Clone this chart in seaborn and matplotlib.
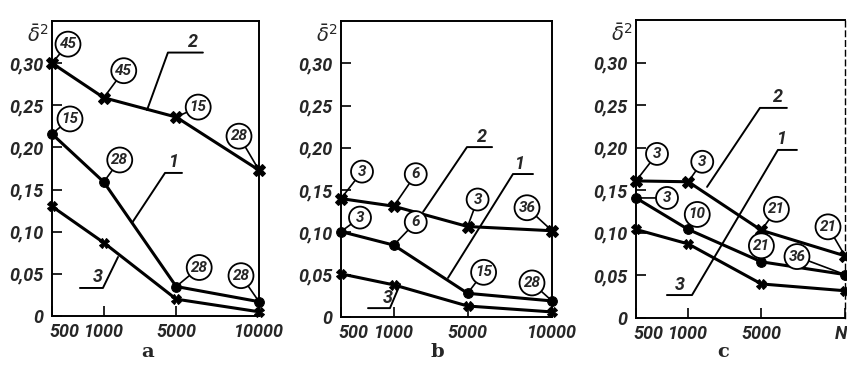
import matplotlib
matplotlib.use("Agg")
import matplotlib.pyplot as plt
import seaborn as sns
import pandas as pd
from matplotlib.transforms import ScaledTranslation

sns.set_style("ticks")
plt.rcParams['font.family'] = ['DejaVu Sans']

# ---------------- data ----------------
categories_ab = ['500', '1000', '5000', '10000']
categories_c = ['500', '1000', '5000', 'N']
yticks = [0, 0.05, 0.10, 0.15, 0.20, 0.25, 0.30]
ytick_labels = ['0', '0,05', '0,10', '0,15', '0,20', '0,25', '0,30']

a_line1 = [0.216, 0.159, 0.035, 0.017]
a_line2 = [0.300, 0.259, 0.236, 0.173]
a_line3 = [0.130, 0.087, 0.020, 0.005]
a_counts1 = [15, 28, 28, 28]
a_counts2 = [45, 45, 15, 28]

b_line1 = [0.101, 0.085, 0.028, 0.019]
b_line2 = [0.140, 0.131, 0.107, 0.102]
b_line3 = [0.051, 0.038, 0.013, 0.006]
b_counts1 = [3, 6, 15, 28]
b_counts2 = [3, 6, 3, 36]

c_line1 = [0.141, 0.104, 0.066, 0.051]
c_line2 = [0.161, 0.160, 0.103, 0.073]
c_line3 = [0.104, 0.087, 0.040, 0.032]
c_counts1 = [3, 10, 21, 36]
c_counts2 = [3, 3, 21, 21]

# ---------------- layout ----------------
cat_pos = [0, 1, 2.4, 4]          # horizontal spacing of the categories
W, H = 847, 370
fig = plt.figure(figsize=(W / 100, H / 100), dpi=100)

def px_axes(x0, x1, ytop, ybot):
    return fig.add_axes([x0 / W, 1 - ybot / H, (x1 - x0) / W, (ybot - ytop) / H])

axes = [px_axes(52, 259, 21, 316), px_axes(341, 552, 21, 317), px_axes(636, 845, 20, 318)]

narrow = ['Roboto', 'DejaVu Sans']
tick_font = dict(family=narrow, style='italic', weight='bold', size=13)
num_font = dict(family=narrow, style='italic', weight='bold', size=11)

panels = [
    (a_line1, a_line2, a_line3, a_counts1, a_counts2, categories_ab),
    (b_line1, b_line2, b_line3, b_counts1, b_counts2, categories_ab),
    (c_line1, c_line2, c_line3, c_counts1, c_counts2, categories_c),
]

# offsets (pixels) of the circled numbers from their points
offs1 = [
    [(18, 15), (16, 22), (23, 19), (-18, 26)],
    [(19, 14), (22, 23), (16, 21), (-20, 18)],
    [(31, 0), (9, 15), (0, 16), (-48, 18)],
]
offs2 = [
    [(16, 19), (20, 27), (22, 10), (-20, 34)],
    [(21, 27), (22, 32), (10, 27), (-25, 23)],
    [(21, 27), (14, 20), (15, 21), (-17, 29)],
]

# leader lines for the curve numbers (axes fraction)
leaders = [
    [([0.459, 0.560, 0.729], [0.698, 0.893, 0.893], '2', (0.68, 0.893)),
     ([0.386, 0.546, 0.628], [0.315, 0.485, 0.485], '1', (0.59, 0.485)),
     ([0.319, 0.246, 0.135], [0.200, 0.095, 0.095], '3', (0.22, 0.095))],
    [([0.389, 0.597, 0.716], [0.355, 0.574, 0.574], '2', (0.67, 0.574)),
     ([0.507, 0.815, 0.910], [0.132, 0.483, 0.483], '1', (0.85, 0.483)),
     ([0.280, 0.232, 0.128], [0.111, 0.030, 0.030], '3', (0.22, 0.030))],
    [([0.340, 0.593, 0.722], [0.440, 0.705, 0.705], '2', (0.68, 0.705)),
     ([0.148, 0.268, 0.679, 0.770], [0.077, 0.077, 0.564, 0.564], '1', (0.70, 0.564)),
     ([], [], '3', (0.21, 0.077))],
]

for i, (ax, (l1, l2, l3, c1, c2, cats)) in enumerate(zip(axes, panels)):
    df = pd.DataFrame({'x': cat_pos, 'l1': l1, 'l2': l2, 'l3': l3})
    sns.lineplot(data=df, x='x', y='l1', ax=ax, color='black', lw=2.2,
                 marker='o', markersize=7, markeredgecolor='black', clip_on=False)
    sns.lineplot(data=df, x='x', y='l2', ax=ax, color='black', lw=2.2,
                 marker='X', markersize=8, markeredgecolor='black', clip_on=False)
    sns.lineplot(data=df, x='x', y='l3', ax=ax, color='black', lw=2.2,
                 marker='X', markersize=7, markeredgecolor='black', clip_on=False)
    ax.set_xlim(0, 4)
    ax.set_ylim(0, 0.35)
    ax.set_xlabel('')
    ax.set_ylabel('')
    ax.set_yticks(yticks)
    ax.set_yticklabels(ytick_labels, **tick_font)
    ax.set_xticks(cat_pos)
    ax.set_xticklabels(cats, **tick_font)
    ax.tick_params(direction='in', length=7, width=1.2, color='black')
    ax.tick_params(axis='y', pad=6)
    ax.tick_params(axis='x', pad=5)
    xl = ax.get_xticklabels()
    xl[0].set_ha('left')
    xl[0].set_transform(xl[0].get_transform() + ScaledTranslation(-3 / 100, 0, fig.dpi_scale_trans))
    if i == 2:
        xl[-1].set_ha('right')
        xl[-1].set_transform(xl[-1].get_transform() + ScaledTranslation(2 / 100, 0, fig.dpi_scale_trans))
    for sp in ax.spines.values():
        sp.set_visible(True)
        sp.set_linewidth(1.4)
        sp.set_color('black')
    if i == 2:
        ax.spines['right'].set_linestyle((0, (4, 3)))
        ax.spines['right'].set_linewidth(1.0)
    ax.text(-0.07, 0.99, r'$\bar{\delta}^2$', transform=ax.transAxes, ha='center',
            va='top', fontsize=14)

    for (vals, counts, offs) in [(l1, c1, offs1[i]), (l2, c2, offs2[i])]:
        for xp, v, n, o in zip(cat_pos, vals, counts, offs):
            ax.annotate(str(n), xy=(xp, v), xytext=o, textcoords='offset pixels',
                        ha='center', va='center', **num_font,
                        bbox=dict(boxstyle='circle,pad=0.26', fc='white', ec='black', lw=1.3),
                        arrowprops=dict(arrowstyle='-', color='black', lw=1.2,
                                        shrinkA=0, shrinkB=0),
                        annotation_clip=False, zorder=5)

    for xs, ys, lab, tpos in leaders[i]:
        if xs:
            ax.plot(xs, ys, transform=ax.transAxes, color='black', lw=1.4,
                    clip_on=False)
        ax.text(tpos[0], tpos[1] + 0.005, lab, transform=ax.transAxes, ha='center',
                va='bottom', **tick_font)

for lab, xc in zip(['a', 'b', 'c'], [148, 437, 723]):
    fig.text(xc / W, 1 - 352 / H, lab, ha='center', va='center', fontsize=14,
             fontweight='bold', family='DejaVu Serif')

fig.savefig('out.png', dpi=100)
